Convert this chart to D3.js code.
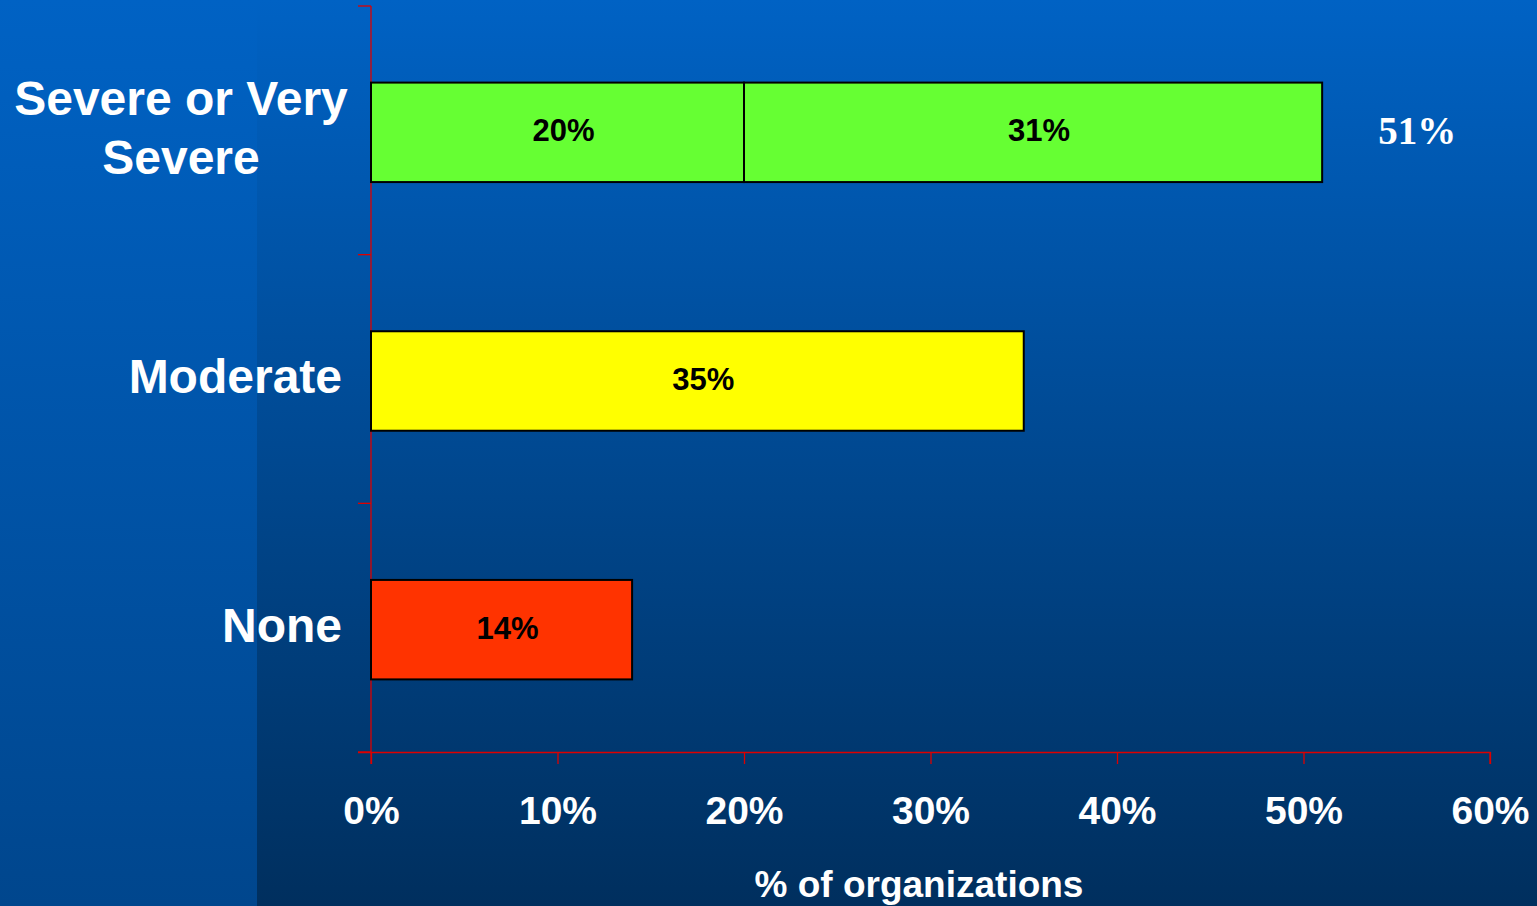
<!DOCTYPE html>
<html>
<head>
<meta charset="utf-8">
<script src="https://cdn.jsdelivr.net/npm/d3@7"></script>
<style>
  html, body { margin: 0; padding: 0; overflow: hidden; background: #00407f; }
</style>
</head>
<body>
<div id="chart-container"></div>
<script>
// Severity bar chart — stacked segments on the top row
const categories = ["Severe or Very Severe", "Moderate", "None"];
const categoryLines = [["Severe or Very", "Severe"], ["Moderate"], ["None"]];
const segStart = [0, 20, 0, 0];
const segValue = [20, 31, 35, 14];
const segCategory = ["Severe or Very Severe", "Severe or Very Severe", "Moderate", "None"];
const segColor = ["#66ff33", "#66ff33", "#ffff00", "#ff3300"];
const totalLabel = { category: "Severe or Very Severe", value: 51, text: "51%" };
const xTicks = [0, 10, 20, 30, 40, 50, 60];
const xTitle = "% of organizations";

const width = 1537, height = 906;
const margin = { top: 6, right: 47, bottom: 154, left: 371 };

const svg = d3.select("#chart-container").append("svg")
  .attr("width", width)
  .attr("height", height);

// background gradients
const defs = svg.append("defs");
const gMain = defs.append("linearGradient").attr("id", "bgMain")
  .attr("x1", 0).attr("y1", 0).attr("x2", 0).attr("y2", 1);
gMain.append("stop").attr("offset", "0%").attr("stop-color", "#0062c4");
gMain.append("stop").attr("offset", "100%").attr("stop-color", "#002f5e");
const gLeft = defs.append("linearGradient").attr("id", "bgLeft")
  .attr("x1", 0).attr("y1", 0).attr("x2", 0).attr("y2", 1);
gLeft.append("stop").attr("offset", "0%").attr("stop-color", "#0062c4");
gLeft.append("stop").attr("offset", "100%").attr("stop-color", "#00468d");

svg.append("rect").attr("width", width).attr("height", height).attr("fill", "url(#bgMain)");
svg.append("rect").attr("width", 257).attr("height", height).attr("fill", "url(#bgLeft)");

const innerW = width - margin.left - margin.right;
const innerH = height - margin.top - margin.bottom;

const x = d3.scaleLinear().domain([0, 60]).range([0, innerW]);
const y = d3.scaleBand().domain(categories).range([2, innerH + 2]).paddingInner(0.6).paddingOuter(0.3);

const g = svg.append("g").attr("transform", `translate(${margin.left},${margin.top})`);

// axes (red)
const xAxis = g.append("g")
  .attr("transform", `translate(0,${innerH})`)
  .call(d3.axisBottom(x).tickValues(xTicks).tickSize(12).tickFormat(d => d + "%"));
xAxis.select(".domain").attr("d", `M-13,0.5H${innerW}V12`);
const yTickPos = [0, 1, 2, 3].map(i => i * innerH / 3);
const yAxis = g.append("g");
yAxis.append("line").attr("x1", 0).attr("x2", 0).attr("y1", 0).attr("y2", innerH + 12);
yAxis.selectAll("line.tk").data(yTickPos).join("line").attr("class", "tk")
  .attr("x1", -13).attr("x2", 0).attr("y1", d => d).attr("y2", d => d);
yAxis.selectAll("line").attr("stroke", "#dd0000").attr("stroke-width", 1.3);
xAxis.selectAll("path, line").attr("stroke", "#dd0000").attr("stroke-width", 1.3);
xAxis.selectAll("text")
  .attr("fill", "#ffffff")
  .attr("y", 0)
  .attr("dy", 72)
  .style("font-family", "Liberation Sans, Arial, sans-serif")
  .style("font-weight", "bold")
  .style("font-size", "39px");

// bars
g.selectAll("rect.bar")
  .data(segValue)
  .join("rect")
  .attr("class", "bar")
  .attr("x", (d, i) => x(segStart[i]))
  .attr("y", (d, i) => y(segCategory[i]))
  .attr("width", (d, i) => x(segStart[i] + d) - x(segStart[i]))
  .attr("height", y.bandwidth())
  .attr("fill", (d, i) => segColor[i])
  .attr("stroke", "#000")
  .attr("stroke-width", 2);

g.selectAll("text.seg")
  .data(segValue)
  .join("text")
  .attr("class", "seg")
  .attr("x", (d, i) => x(segStart[i] + d / 2) + 6)
  .attr("y", (d, i) => y(segCategory[i]) + y.bandwidth() / 2 + 9)
  .attr("text-anchor", "middle")
  .attr("fill", "#000")
  .style("font-family", "Liberation Sans, Arial, sans-serif")
  .style("font-weight", "bold")
  .style("font-size", "31px")
  .text(d => d + "%");

// total label
g.append("text")
  .attr("x", x(totalLabel.value) + 95)
  .attr("y", y(totalLabel.category) + y.bandwidth() / 2 + 12)
  .attr("text-anchor", "middle")
  .attr("fill", "#fff")
  .style("font-family", "Liberation Serif, Times New Roman, serif")
  .style("font-weight", "bold")
  .style("font-size", "39px")
  .text(totalLabel.text);

// category labels
categories.forEach((c, i) => {
  const lines = categoryLines[i];
  const cy = y(c) + y.bandwidth() / 2;
  const multi = lines.length > 1;
  const t = svg.append("text")
    .attr("text-anchor", multi ? "middle" : "end")
    .attr("fill", "#fff")
    .style("font-family", "Liberation Sans, Arial, sans-serif")
    .style("font-weight", "bold")
    .style("font-size", "48px");
  lines.forEach((ln, j) => {
    t.append("tspan")
      .attr("x", multi ? 181 : 342)
      .attr("y", margin.top + cy + 12 + (j - (lines.length - 1) / 2) * 59)
      .text(ln);
  });
});

// x title
svg.append("text")
  .attr("x", 919)
  .attr("y", 897)
  .attr("text-anchor", "middle")
  .attr("fill", "#fff")
  .style("font-family", "Liberation Sans, Arial, sans-serif")
  .style("font-weight", "bold")
  .style("font-size", "37px")
  .text(xTitle);
</script>
</body>
</html>
